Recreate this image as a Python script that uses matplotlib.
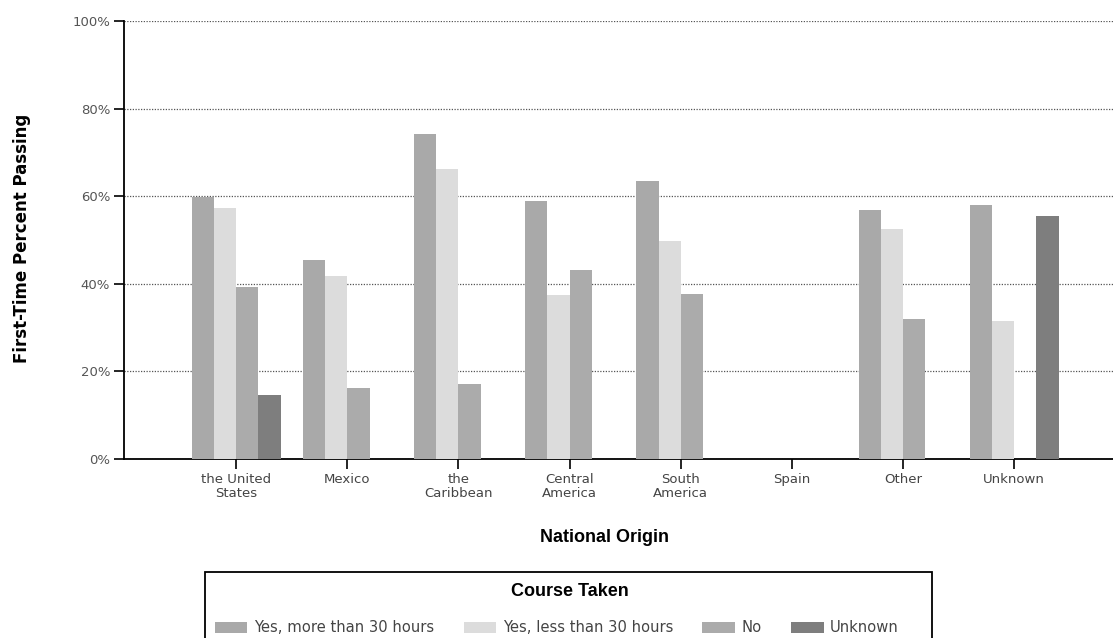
import matplotlib
matplotlib.use("Agg")
import matplotlib.pyplot as plt
import matplotlib.patches as mpatches
import numpy as np

plt.rcParams["font.family"] = ["DejaVu Sans"]

# Data (percent passing, NaN = no bar)
origins = ["the United\nStates", "Mexico", "the\nCaribbean", "Central\nAmerica",
           "South\nAmerica", "Spain", "Other", "Unknown"]
course_labels = ["Yes, more than 30 hours", "Yes, less than 30 hours", "No", "Unknown"]
more_30 = [59.8, 45.4, 74.2, 58.9, 63.5, np.nan, 56.8, 58.0]
less_30 = [57.3, 41.8, 66.2, 37.4, 49.8, np.nan, 52.5, 31.5]
no_course = [39.3, 16.2, 17.1, 43.2, 37.7, np.nan, 32.0, np.nan]
unknown = [14.6, np.nan, np.nan, np.nan, np.nan, np.nan, np.nan, 55.5]
series = [more_30, less_30, no_course, unknown]
colors = ["#a9a9a9", "#dcdcdc", "#ababab", "#7e7e7e"]

fig = plt.figure(figsize=(11.13, 6.38), dpi=100)
ax = fig.add_axes([124 / 1113, 1 - 459 / 638, 1 - 124 / 1113, (459 - 21) / 638])

x = np.arange(len(origins))
width = 0.2
for i, (vals, c) in enumerate(zip(series, colors)):
    ax.bar(x + (i - 1.5) * width, vals, width, color=c, edgecolor="none",
           label=course_labels[i], zorder=3)

ax.set_xlim(-1.01, 7.89)
ax.set_ylim(0, 100)
ax.set_yticks(np.arange(0, 101, 20))
ax.set_yticklabels([f"{v}%" for v in range(0, 101, 20)], fontsize=9.5, color="#555555")
ax.set_xticks(x)
ax.set_xticklabels(origins, fontsize=9.5, color="#444444", linespacing=1.15)
ax.tick_params(axis="both", length=7, width=1.2, direction="out")
ax.tick_params(axis="y", pad=3)
ax.tick_params(axis="x", pad=3)

for s in ["top", "right"]:
    ax.spines[s].set_visible(False)
ax.spines["left"].set_linewidth(1.3)
ax.spines["bottom"].set_linewidth(1.3)

ax.yaxis.grid(True, linestyle=(0, (1, 1.2)), color="#555555", linewidth=0.9, zorder=0)
ax.set_axisbelow(True)

fig.text(22 / 1113, 1 - 238 / 638, "First-Time Percent Passing", rotation=90,
         ha="center", va="center", fontsize=12, fontweight="bold")
fig.text(605 / 1113, 1 - 537 / 638, "National Origin", ha="center", va="center",
         fontsize=13, fontweight="bold", family="Liberation Sans")

# legend box
frame = mpatches.Rectangle((205 / 1113, -0.02), (932 - 205) / 1113, (638 - 572) / 638 + 0.02,
                           transform=fig.transFigure, fill=False, edgecolor="black",
                           linewidth=1.3)
fig.patches.append(frame)
fig.text(570 / 1113, 1 - 591 / 638, "Course Taken", ha="center", va="center",
         fontsize=13, fontweight="bold", family="Liberation Sans")
handles, labels = ax.get_legend_handles_labels()
fig.legend(handles, labels, ncol=4, loc="center left",
           bbox_to_anchor=(215 / 1113, 1 - 628 / 638), frameon=False, fontsize=10.6,
           handlelength=2.2, handleheight=0.75, handletextpad=0.45, columnspacing=2.0,
           labelcolor="#444444", borderpad=0, borderaxespad=0)

fig.savefig("out.png", dpi=100)
